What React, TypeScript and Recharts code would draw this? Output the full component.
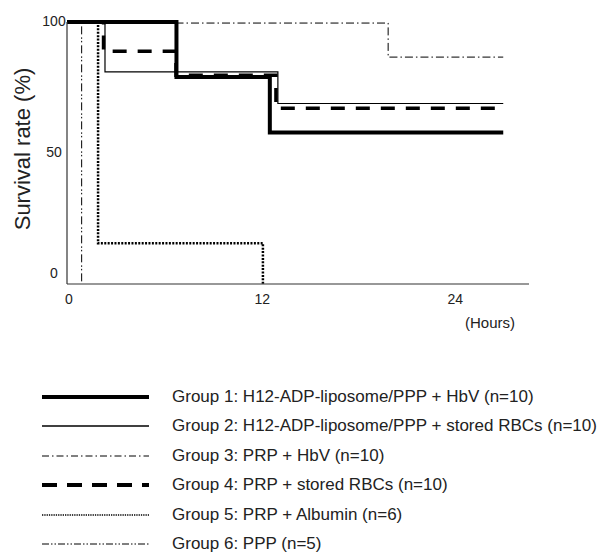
import { Label, Line, LineChart, XAxis, YAxis } from "recharts";

const hourTicks = [0, 12, 24];
const survivalTicks = [0, 50, 100];

const group1Hours = [0, 6.8, 12.6, 27.1];
const group1Survival = [100, 79, 57.8, 57.8];
const group2Hours = [0, 2.36, 13.1, 27.1];
const group2Survival = [100, 81, 68.9, 68.9];
const group3Hours = [0, 19.95, 27.1];
const group3Survival = [99.6, 86.6, 86.6];
const group4Hours = [0, 2.27, 6.77, 12.98, 27.1];
const group4Survival = [100, 88.8, 79.7, 67.1, 67.1];
const group5Hours = [0, 1.93, 12.17];
const group5Survival = [100, 15.6, 0];
const group6Hours = [0, 0.91];
const group6Survival = [100, 0];

const toPoints = (hours: number[], survival: number[]) =>
  hours.map((t, i) => ({ t, v: survival[i] }));

const FONT = "'Liberation Sans', Arial, sans-serif";

const series = [
  {
    key: "g3",
    name: "Group 3: PRP + HbV (n=10)",
    data: toPoints(group3Hours, group3Survival),
    width: 1,
    dash: "8 3 1.5 3",
    legendWidth: 1,
    legendDash: "7 3 1.5 3",
    row: 2,
  },
  {
    key: "g6",
    name: "Group 6: PPP (n=5)",
    data: toPoints(group6Hours, group6Survival),
    width: 1,
    dash: "8 3 1.5 2 1.5 3",
    legendWidth: 1,
    legendDash: "7 2 1.5 2 1.5 2",
    row: 5,
  },
  {
    key: "g5",
    name: "Group 5: PRP + Albumin (n=6)",
    data: toPoints(group5Hours, group5Survival),
    width: 2.5,
    dash: "2 1.4",
    legendWidth: 1.5,
    legendDash: "1.3 1",
    row: 4,
  },
  {
    key: "g2",
    name: "Group 2: H12-ADP-liposome/PPP + stored RBCs (n=10)",
    data: toPoints(group2Hours, group2Survival),
    width: 1.2,
    dash: undefined,
    legendWidth: 1.3,
    legendDash: undefined,
    row: 1,
  },
  {
    key: "g1",
    name: "Group 1: H12-ADP-liposome/PPP + HbV (n=10)",
    data: toPoints(group1Hours, group1Survival),
    width: 4,
    dash: undefined,
    legendWidth: 4,
    legendDash: undefined,
    row: 0,
  },
  {
    key: "g4",
    name: "Group 4: PRP + stored RBCs (n=10)",
    data: toPoints(group4Hours, group4Survival),
    width: 3.5,
    dash: "14 11",
    legendWidth: 4,
    legendDash: "15 10",
    row: 3,
  },
];

const legendRows = [...series].sort((a, b) => a.row - b.row);

function YTick(props: any) {
  const { y, payload } = props;
  // the "0" label sits above the axis line in the original
  const shift = payload.value === 0 ? -11 : -1.5;
  return (
    <text
      x={54}
      y={y + shift}
      textAnchor="middle"
      dominantBaseline="central"
      fontSize={14}
      fontFamily={FONT}
      fill="#222"
    >
      {payload.value}
    </text>
  );
}

function XTick(props: any) {
  const { x, payload } = props;
  return (
    <text
      x={x + 2}
      y={299}
      textAnchor="middle"
      dominantBaseline="central"
      fontSize={14}
      fontFamily={FONT}
      fill="#222"
    >
      {payload.value}
    </text>
  );
}

export default function App() {
  return (
    <div
      style={{
        position: "absolute",
        left: 0,
        top: 0,
        width: 598,
        height: 555,
        background: "#fff",
        fontFamily: FONT,
        overflow: "hidden",
      }}
    >
      <LineChart
        width={598}
        height={340}
        margin={{ top: 22, right: 69, bottom: 16, left: 0 }}
      >
        <XAxis
          type="number"
          dataKey="t"
          domain={[0, 28.7]}
          ticks={hourTicks}
          tickLine={false}
          tick={XTick}
          height={40}
          stroke="#333"
          strokeWidth={1.2}
          allowDuplicatedCategory={false}
        >
          <Label
            content={() => (
              <text
                x={490}
                y={322}
                textAnchor="middle"
                dominantBaseline="central"
                fontSize={15}
                fontFamily={FONT}
                fill="#222"
              >
                (Hours)
              </text>
            )}
          />
        </XAxis>
        <YAxis
          type="number"
          domain={[0, 100]}
          ticks={survivalTicks}
          tickLine={false}
          tick={YTick}
          width={67}
          stroke="#333"
          strokeWidth={1.2}
        >
          <Label
            content={() => (
              <text
                x={22}
                y={149}
                transform="rotate(-90, 22, 149)"
                textAnchor="middle"
                dominantBaseline="central"
                fontSize={22}
                fontFamily={FONT}
                fill="#222"
              >
                Survival rate (%)
              </text>
            )}
          />
        </YAxis>
        {series.map((s) => (
          <Line
            key={s.key}
            data={s.data}
            dataKey="v"
            name={s.name}
            type="stepAfter"
            stroke="#000"
            strokeWidth={s.width}
            strokeDasharray={s.dash}
            dot={false}
            activeDot={false}
            isAnimationActive={false}
          />
        ))}
      </LineChart>

      {legendRows.map((s, i) => {
        const center = 397 + i * 29.4;
        return (
          <div
            key={s.key}
            style={{
              position: "absolute",
              left: 0,
              top: center - 14,
              width: 598,
              height: 28,
            }}
          >
            <svg width={160} height={28} style={{ position: "absolute", left: 0, top: 0 }}>
              <line
                x1={42}
                x2={149}
                y1={14}
                y2={14}
                stroke="#000"
                strokeWidth={s.legendWidth}
                strokeDasharray={s.legendDash}
              />
            </svg>
            <span
              style={{
                position: "absolute",
                left: 172,
                top: 0,
                lineHeight: "28px",
                fontSize: 17,
                color: "#222",
                whiteSpace: "nowrap",
              }}
            >
              {s.name}
            </span>
          </div>
        );
      })}
    </div>
  );
}
